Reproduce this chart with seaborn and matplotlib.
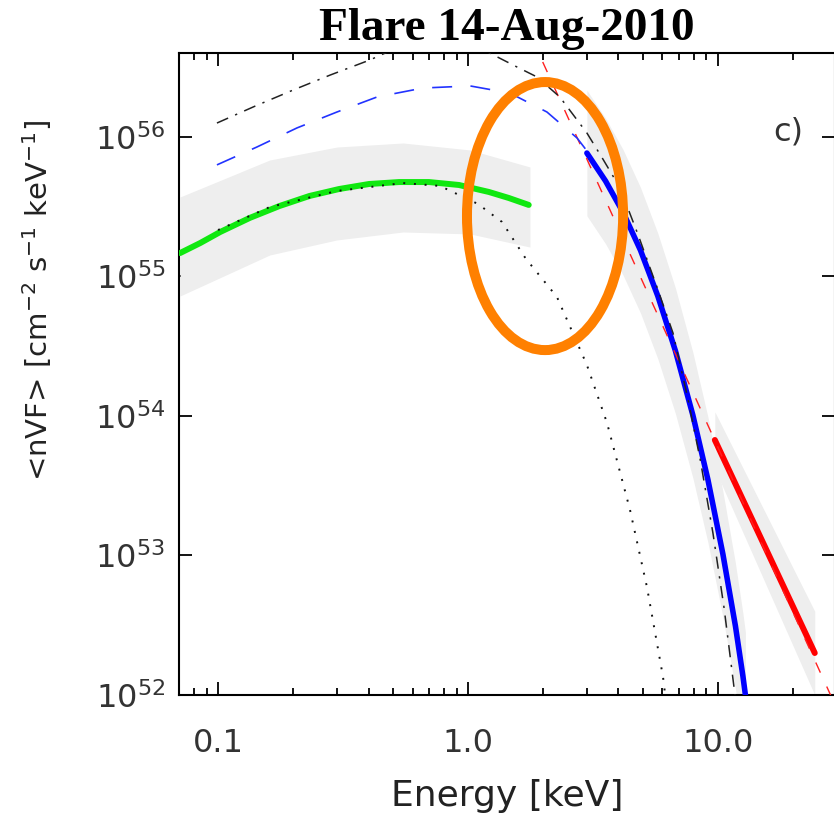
import numpy as np
import matplotlib
matplotlib.use("Agg")
import matplotlib.pyplot as plt
import seaborn as sns
from matplotlib.patches import Ellipse
from matplotlib.ticker import LogLocator, NullFormatter, NullLocator

# ---------------- data ----------------
# thermal fit (green, thick) : energy [keV], log10 <nVF>
green_E = [0.0705, 0.0849, 0.102, 0.134, 0.176, 0.232, 0.305, 0.402, 0.530, 0.698, 0.920, 1.212, 1.455, 1.75]
green_logY = [55.168, 55.240, 55.319, 55.420, 55.505, 55.577, 55.627, 55.663, 55.677, 55.677, 55.656, 55.606, 55.563, 55.513]
green_band_E = [0.0705, 0.161, 0.299, 0.550, 1.02, 1.77]
green_band_hi = [55.570, 55.835, 55.928, 55.957, 55.907, 55.785]
green_band_lo = [54.860, 55.154, 55.262, 55.319, 55.305, 55.211]

# thermal model (black dotted)
dot_E = [0.100, 0.161, 0.299, 0.550, 0.773, 1.096, 1.368, 1.70, 2.27, 2.99, 3.60, 4.45, 5.20, 6.03, 6.20]
dot_logY = [55.333, 55.498, 55.613, 55.670, 55.649, 55.520, 55.391, 55.13, 54.853, 54.366, 53.950, 53.326, 52.774, 52.129, 51.95]

# total model (black dash-dot)
dd_E = [0.099, 0.141, 0.200, 0.281, 0.405, 0.52, 0.77, 1.00, 1.22, 1.57, 1.89, 2.33, 2.99, 3.47, 4.06, 4.79, 5.70, 6.61,
        7.59, 8.51, 9.55, 10.59, 11.7]
dd_logY = [56.100, 56.222, 56.337, 56.444, 56.552, 56.64, 56.67, 56.64, 56.602, 56.502, 56.43, 56.287, 56.029, 55.84,
           55.634, 55.30, 54.925, 54.595, 54.12, 53.68, 53.161, 52.62, 52.0]

# non-thermal model (blue dashed) and non-thermal fit (blue, thick)
bd_E = [0.099, 0.143, 0.207, 0.299, 0.433, 0.661, 1.02, 1.47, 2.07, 2.73, 3.08]
bd_logY = [55.80, 55.928, 56.065, 56.179, 56.287, 56.351, 56.366, 56.315, 56.179, 55.993, 55.871]
blue_E = [2.99, 3.55, 4.17, 4.90, 5.75, 6.76, 7.94, 9.12, 10.47, 11.75, 12.59, 12.88]
blue_logY = [55.885, 55.685, 55.461, 55.188, 54.859, 54.467, 54.005, 53.543, 53.009, 52.494, 52.134, 52.0]
blue_band_hi = [56.335, 56.135, 55.911, 55.638, 55.309, 54.917, 54.455, 53.993, 53.459, 52.944, 52.584, 52.45]
blue_band_lo = [55.435, 55.235, 55.011, 54.738, 54.409, 54.017, 53.555, 53.093, 52.559, 52.044, 51.684, 51.55]

# power law (red dashed) and power-law fit (red, thick)
rd_E = [1.80, 29.4]
rd_logY = [56.71, 51.93]
red_E = [9.72, 24.4]
red_logY = [53.828, 52.301]
red_band_hi = [54.03, 52.60]
red_band_lo = [53.62, 52.00]

xtick_vals = [0.1, 1.0, 10.0]
xtick_labels = ["0.1", "1.0", "10.0"]

title = "Flare 14-Aug-2010"
xlabel = "Energy [keV]"
ylabel = r"<nVF> [cm$^{-2}$ s$^{-1}$ keV$^{-1}$]"
panel = "c)"

def p(a):
    return np.power(10.0, np.asarray(a, dtype=float))

# ---------------- figure ----------------
sns.set_theme(style="ticks")
plt.rcParams["font.family"] = ["DejaVu Sans"]
plt.rcParams["mathtext.default"] = "regular"

fig = plt.figure(figsize=(8.34, 8.15), dpi=100)
ax = fig.add_axes([179 / 834, 1 - 695 / 815, 656 / 834, 642 / 815])
ax.set_xscale("log")
ax.set_yscale("log")

band_c = "#eeeeee"
ax.fill_between(green_band_E, p(green_band_lo), p(green_band_hi), color=band_c, lw=0, zorder=1)
ax.fill_between(blue_E, p(blue_band_lo), p(blue_band_hi), color=band_c, lw=0, zorder=1)
ax.fill_between(red_E, p(red_band_lo), p(red_band_hi), color=band_c, lw=0, zorder=1)

sns.lineplot(x=green_E, y=p(green_logY), ax=ax, color="#10e810", linewidth=4.3,
             estimator=None, sort=False, zorder=3)
sns.lineplot(x=blue_E, y=p(blue_logY), ax=ax, color="#0000ff", linewidth=4.0,
             estimator=None, sort=False, zorder=3)
sns.lineplot(x=red_E, y=p(red_logY), ax=ax, color="#ff0000", linewidth=4.3,
             estimator=None, sort=False, zorder=3)

sns.lineplot(x=rd_E, y=p(rd_logY), ax=ax, color="#ff2020", linewidth=1.0,
             linestyle=(0, (8, 11)), estimator=None, sort=False, zorder=4)
sns.lineplot(x=bd_E, y=p(bd_logY), ax=ax, color="#2233ff", linewidth=1.2,
             linestyle=(0, (12, 11)), estimator=None, sort=False, zorder=4)
sns.lineplot(x=dd_E, y=p(dd_logY), ax=ax, color="#222222", linewidth=1.1,
             linestyle=(0, (8, 5, 1.5, 5)), estimator=None, sort=False, zorder=5)
sns.lineplot(x=dot_E, y=p(dot_logY), ax=ax, color="#111111", linewidth=1.4,
             linestyle=(0, (1, 4.5)), estimator=None, sort=False, zorder=5)

ax.set_xlim(0.0698, 29.4)
ax.set_ylim(1e52, 4.0e56)

# ticks
ax.set_xticks(xtick_vals)
ax.set_xticklabels(xtick_labels)
ax.xaxis.set_minor_locator(LogLocator(base=10, subs=np.arange(2, 10)))
ax.xaxis.set_minor_formatter(NullFormatter())
ax.yaxis.set_major_locator(LogLocator(base=10, numticks=10))
ax.yaxis.set_minor_locator(NullLocator())
ax.tick_params(which="both", direction="in", top=True, right=True, color="black",
               width=1.3)
ax.tick_params(which="major", length=9.5)
ax.tick_params(which="minor", length=5)
ax.tick_params(axis="x", which="major", pad=24, labelsize=23)
ax.tick_params(axis="y", which="major", pad=10, labelsize=23)
for lab in ax.get_xticklabels() + ax.get_yticklabels():
    lab.set_color("#333333")
for s in ax.spines.values():
    s.set_linewidth(1.5)
    s.set_color("black")

ax.set_xlabel(xlabel, fontsize=26, color="#222222", labelpad=14)
ax.set_ylabel(ylabel, fontsize=21, color="#222222")
ax.yaxis.set_label_coords(-0.19, 0.615)
ax.set_title(title, fontsize=34, fontweight="bold", family=["Liberation Serif"], pad=9,
             color="black")

ax.text(0.928, 0.877, panel, transform=ax.transAxes, fontsize=23, ha="center",
        va="center", color="#333333")

ell = Ellipse((0.558, 0.746), 0.238, 0.4175, transform=ax.transAxes, fill=False,
              edgecolor="#ff8000", linewidth=7.2, zorder=10, clip_on=False)
ax.add_patch(ell)

fig.savefig("out.png", dpi=100)
